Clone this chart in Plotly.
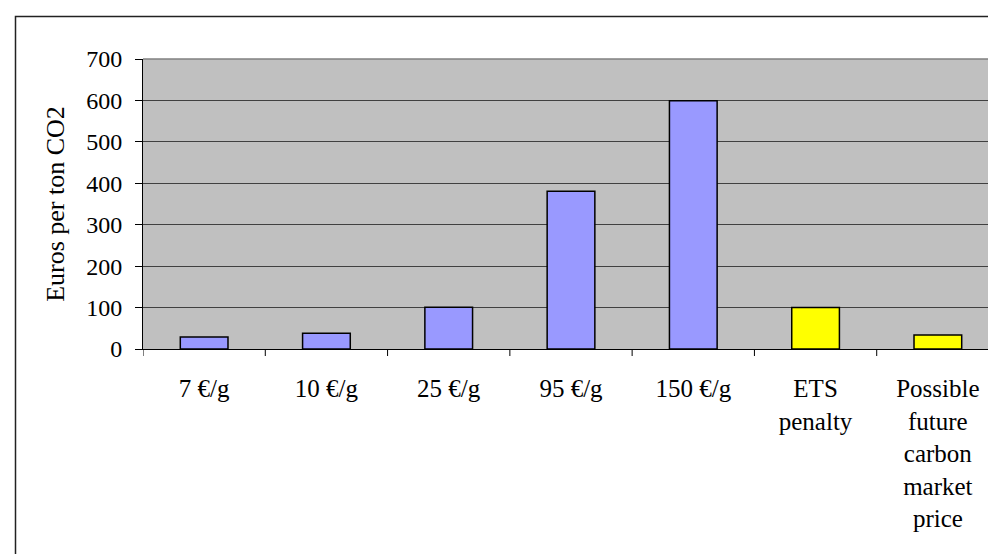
import plotly.graph_objects as go

categories = ["7 €/g", "10 €/g", "25 €/g", "95 €/g", "150 €/g", "ETS<br>penalty",
              "Possible<br>future<br>carbon<br>market<br>price"]
values = [29, 38, 101, 381, 599, 100, 34]
bar_colors = ["#9999ff"] * 5 + ["#ffff00"] * 2
y_title = "Euros per ton CO2"
y_ticks = [0, 100, 200, 300, 400, 500, 600, 700]

W, H = 996, 554
L, R, T, B = 135, 5, 51, 213
pw, ph = W - L - R, H - T - B

def px_x(p):
    return (p - L) / pw

def px_y(p):
    return (H - B - p) / ph

FONT = "Liberation Serif, Times New Roman, serif"

fig = go.Figure(go.Bar(
    x=list(range(len(categories))),
    y=values,
    marker=dict(color=bar_colors, line=dict(color="#000000", width=1.5)),
    width=0.39,
))

fig.update_layout(
    width=W, height=H,
    margin=dict(l=L, r=R, t=T, b=B, pad=0),
    paper_bgcolor="#ffffff",
    plot_bgcolor="#c0c0c0",
    showlegend=False,
    font=dict(family=FONT, size=24, color="#000000"),
    xaxis=dict(
        tickmode="array",
        tickvals=list(range(len(categories))),
        ticktext=categories,
        tickfont=dict(size=25),
        range=[-0.5, len(categories) - 0.5],
        showgrid=False,
        showline=True, linecolor="#000000", linewidth=1,
        ticks="", zeroline=False,
        ticklabelstandoff=17,
    ),
    yaxis=dict(
        range=[0, 700],
        tickvals=y_ticks,
        tickfont=dict(size=24),
        showgrid=True, gridcolor="#404040", gridwidth=1,
        showline=True, linecolor="#000000", linewidth=1,
        ticks="outside", ticklen=7, tickcolor="#000000", tickwidth=1,
        zeroline=False,
        ticklabelstandoff=8,
        title=dict(text=y_title, font=dict(size=26), standoff=14),
    ),
)

# x ticks at category boundaries
shapes = []
for i in range(len(categories) + 1):
    shapes.append(dict(type="line", xref="x", yref="paper",
                       x0=i - 0.5, x1=i - 0.5, y0=0, y1=px_y(H - B + 7),
                       line=dict(color="#000000", width=1)))
# plot frame top / right (gray)
shapes.append(dict(type="line", xref="paper", yref="paper", x0=0, x1=1, y0=1, y1=1,
                   line=dict(color="#808080", width=1.5)))
shapes.append(dict(type="line", xref="paper", yref="paper", x0=1, x1=1, y0=0, y1=1,
                   line=dict(color="#808080", width=2)))
# outer chart border
shapes.append(dict(type="rect", xref="paper", yref="paper",
                   x0=px_x(7.5), x1=px_x(1005), y0=px_y(565), y1=px_y(8.5),
                   line=dict(color="#222222", width=1.5), layer="below"))
fig.update_layout(shapes=shapes)

fig.write_html("out.html")
